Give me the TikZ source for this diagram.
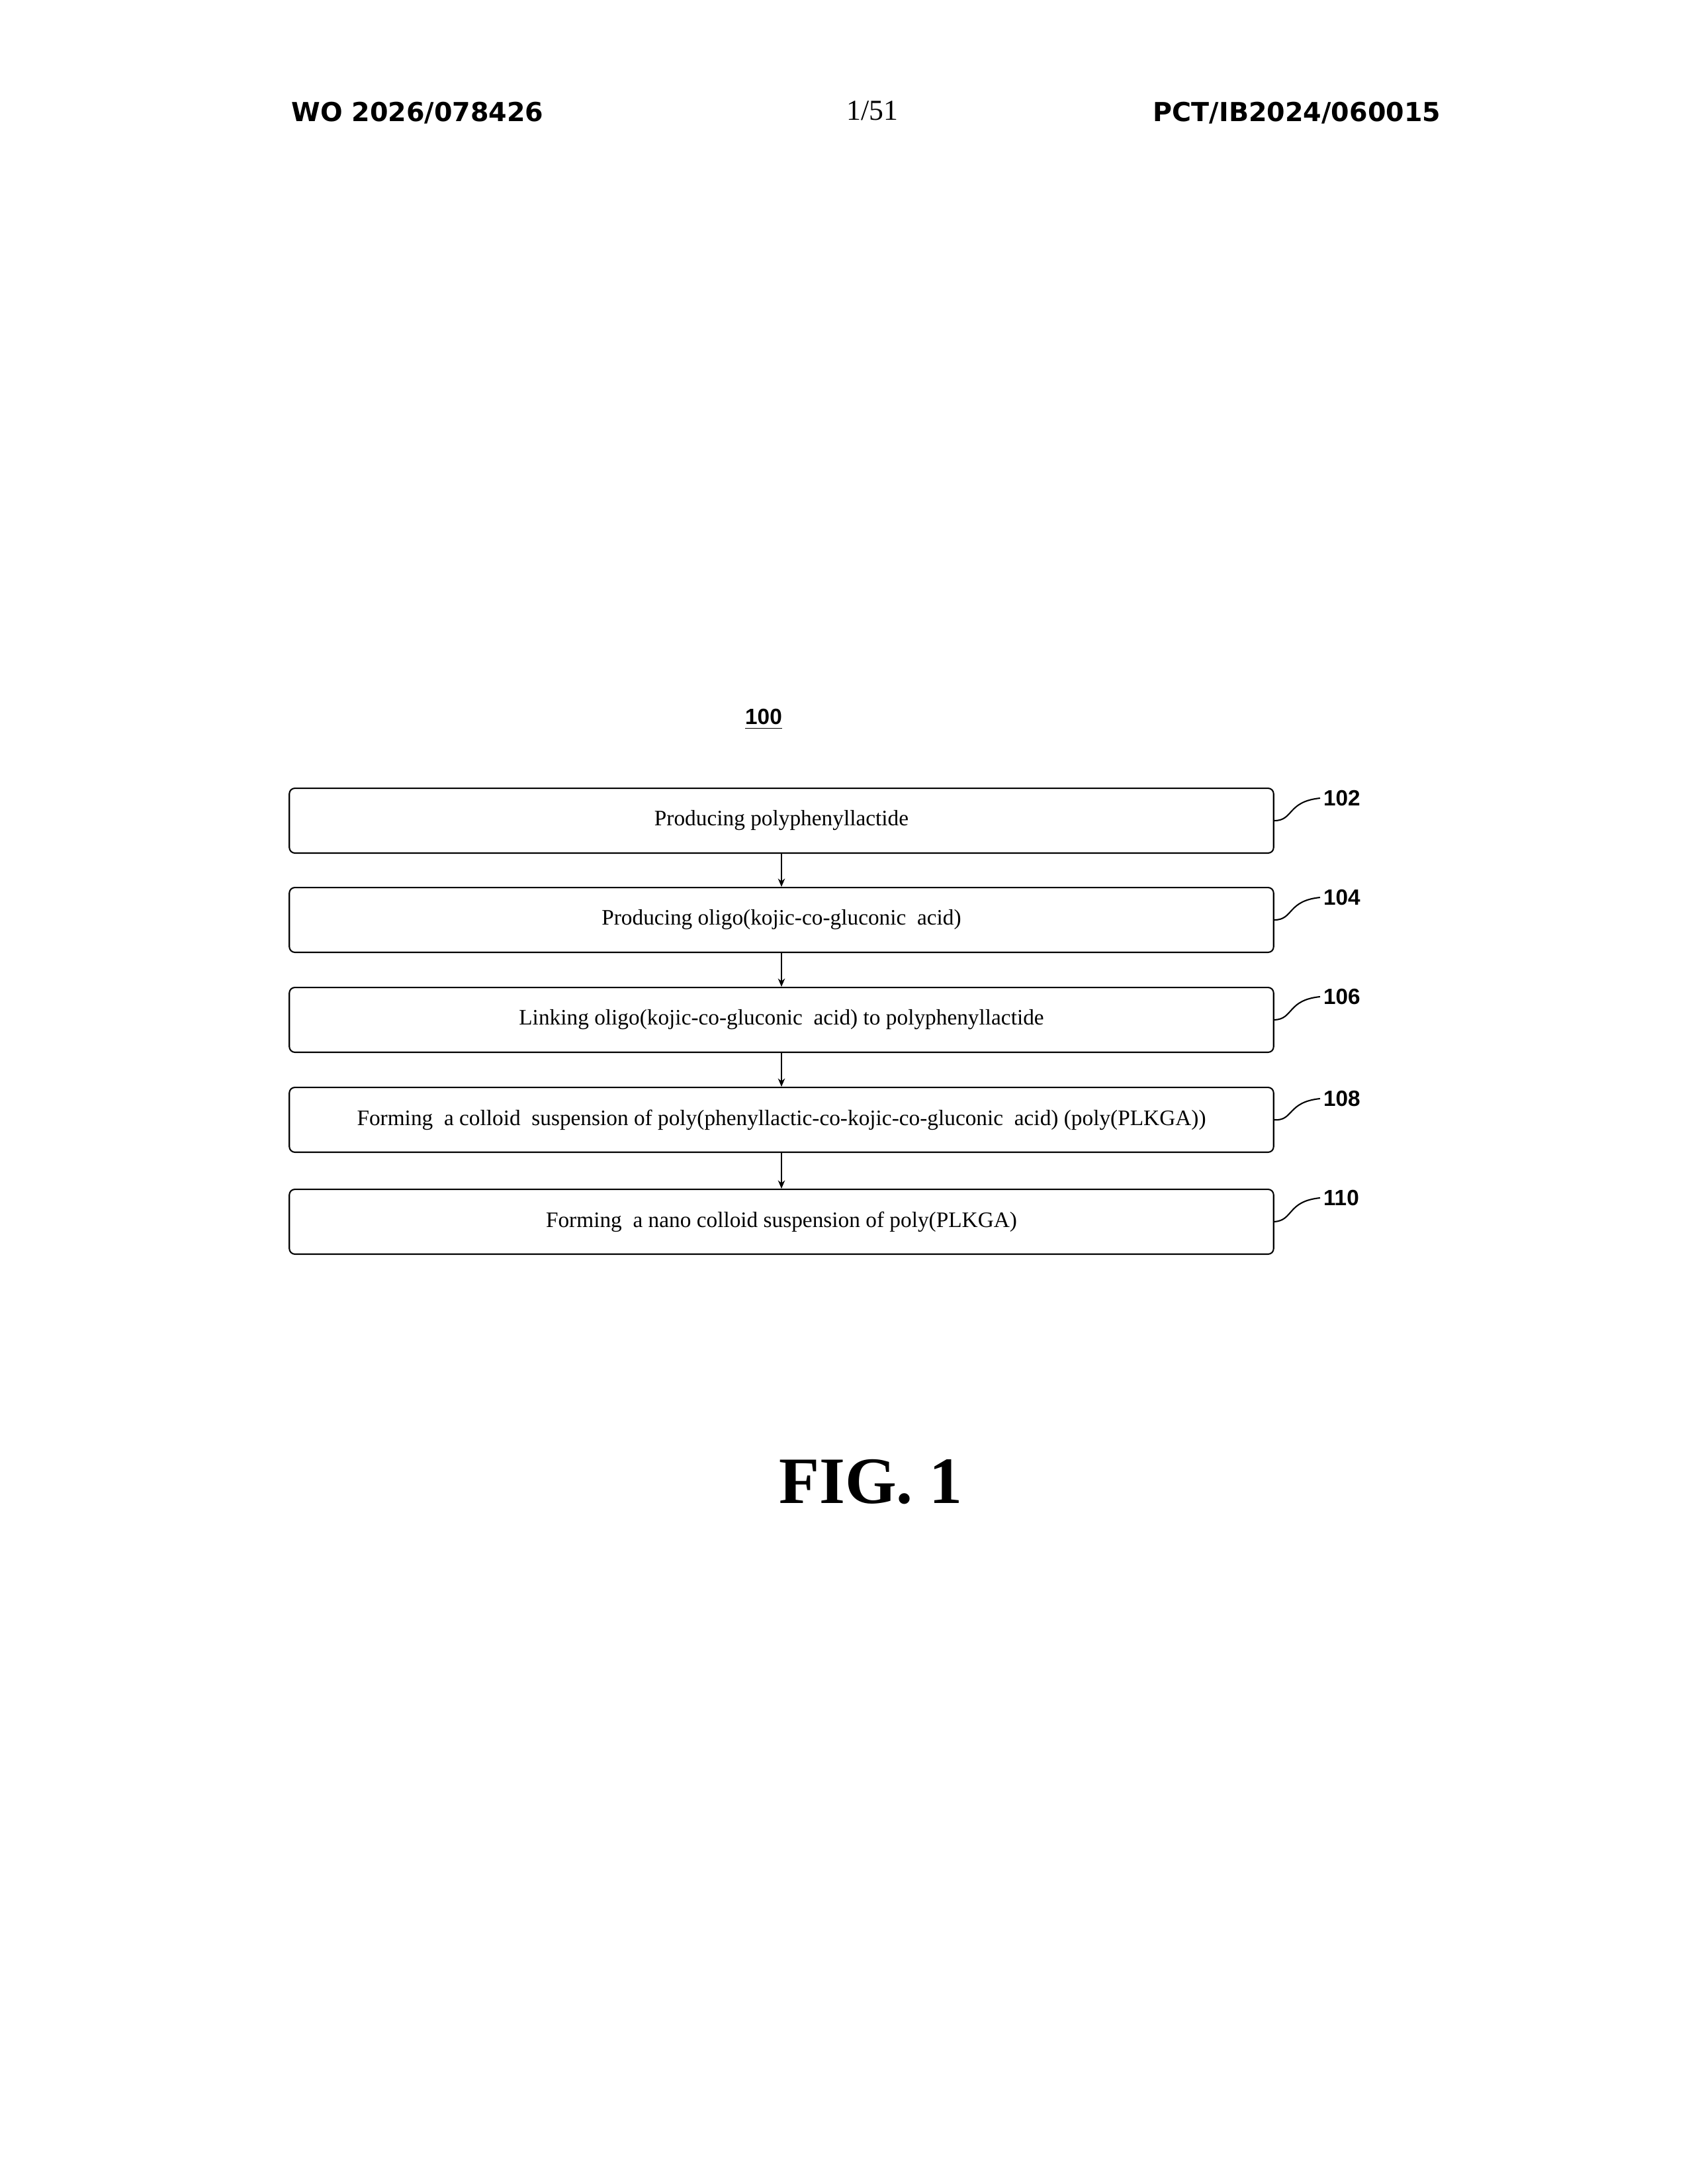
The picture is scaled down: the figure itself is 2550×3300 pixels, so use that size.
\documentclass[tikz,border=0pt]{standalone}
\usepackage{fontspec}
\setmainfont{Liberation Serif}
\newfontfamily\hdr{DejaVu Sans}
\newfontfamily\lbl{Liberation Sans}
\usetikzlibrary{arrows.meta}
\begin{document}
\begin{tikzpicture}[x=0.24pt,y=-0.24pt,
  stepbox/.style={draw,rounded corners=2pt,line width=0.5pt,minimum width=357pt,minimum height=23.5pt,inner sep=0pt,font=\fontsize{8}{9}\selectfont},
  flow/.style={-{Stealth[length=3pt,width=2.5pt]},line width=0.5pt},
  reflbl/.style={font=\lbl\bfseries\fontsize{8}{9}\selectfont,anchor=west,inner sep=1pt},
  squig/.style={line width=0.5pt}]
\useasboundingbox (0,0) rectangle (2550,3300);
\node[font=\hdr\bfseries\fontsize{9.5}{11}\selectfont] (wo) at (631,171) {WO 2026/078426};
\node[font=\fontsize{10.5}{12}\selectfont] (pg) at (1318,167) {1/51};
\node[font=\hdr\bfseries\fontsize{9.5}{11}\selectfont] (pct) at (1960,171) {PCT/IB2024/060015};
\node[font=\lbl\bfseries\fontsize{8}{9}\selectfont,inner sep=1pt] (t100) at (1154,1087) {\underline{100}};
\node[stepbox] (b102) at (1181,1240) {Producing polyphenyllactide};
\node[stepbox] (b104) at (1181,1390) {Producing oligo(kojic-co-gluconic\ \ acid)};
\node[stepbox] (b106) at (1181,1541) {Linking oligo(kojic-co-gluconic\ \ acid) to polyphenyllactide};
\node[stepbox] (b108) at (1181,1692) {Forming\ \ a colloid\ \ suspension of poly(phenyllactic-co-kojic-co-gluconic\ \ acid) (poly(PLKGA))};
\node[stepbox] (b110) at (1181,1846) {Forming\ \ a nano colloid suspension of poly(PLKGA)};
\draw[flow] (b102) -- (b104);
\draw[flow] (b104) -- (b106);
\draw[flow] (b106) -- (b108);
\draw[flow] (b108) -- (b110);
\foreach \n/\t/\y in {102/102/1206,104/104/1356,106/106/1506,108/108/1660,110/110/1810}{
  \node[reflbl] (l\n) at (1995,\y) {\t};
  \draw[squig] (b\n.east) .. controls (1955,1240-1206+\y) and (1945,\y+5) .. (l\n.west);
}
\node[font=\bfseries\fontsize{24}{28}\selectfont] (fig) at (1316,2239) {FIG. 1};
\end{tikzpicture}
\end{document}
